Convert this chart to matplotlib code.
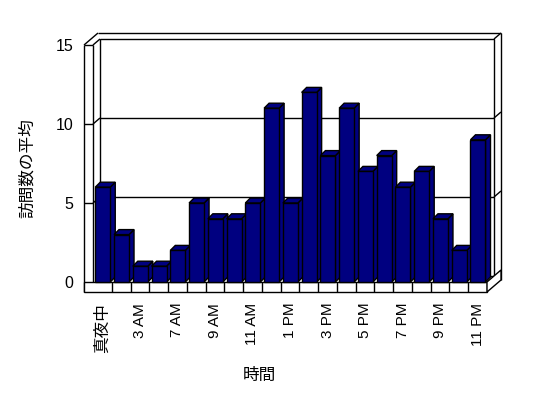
import numpy as np
import matplotlib
matplotlib.use("Agg")
import matplotlib.pyplot as plt
from matplotlib.patches import Polygon, Rectangle

plt.rcParams['font.family'] = ['Liberation Sans', 'Noto Sans CJK JP']

# data
hours = ["真夜中", "1 AM", "3 AM", "5 AM", "7 AM", "8 AM", "9 AM", "10 AM", "11 AM", "12 PM",
         "1 PM", "2 PM", "3 PM", "4 PM", "5 PM", "6 PM", "7 PM", "8 PM", "9 PM", "10 PM", "11 PM"]
visits = [6, 3, 1, 1, 2, 5, 4, 4, 5, 11, 5, 12, 8, 11, 7, 8, 6, 7, 4, 2, 9]
y_ticks = [0, 5, 10, 15]
y_title = "訪問数の平均"
x_title = "時間"

navy = "#000080"
W, H = 548, 398
n = len(visits)
ymax = 15

fig = plt.figure(figsize=(W / 100, H / 100), dpi=100)
ax = fig.add_axes([93 / W, (H - 282) / H, 394 / W, 237 / H])
ax.set_xlim(0, n)
ax.set_ylim(0, ymax)
for s in ax.spines.values():
    s.set_visible(False)

# pixel -> data units
px = n / 394
py = ymax / 237
dx1, dy1 = 7 * px, 6 * py     # front plane -> back wall
dx2, dy2 = 14 * px, 12 * py   # outer edge of back wall
tw = 9 * px                   # left wall thickness
tf = 10 * py                  # floor thickness
lw = 1.0
kw = dict(color='black', lw=lw, clip_on=False, solid_capstyle='butt')

# back wall
ax.add_patch(Polygon([(dx1, dy1), (n + dx1, dy1), (n + dx1, ymax + dy1), (dx1, ymax + dy1)],
                     closed=True, fc='white', ec='black', lw=lw, clip_on=False, zorder=1))
ax.plot([5 * px, n + dx2], [ymax + dy2, ymax + dy2], **kw)
ax.plot([-tw, 5 * px], [ymax, ymax + dy2], **kw)
ax.plot([0, dx1], [ymax, ymax + dy1], **kw)
ax.plot([n + dx1, n + dx2], [ymax + dy1, ymax + dy2], **kw)
ax.plot([n + dx2, n + dx2], [ymax + dy2, dy2 - tf], **kw)

# gridlines
for y in y_ticks[1:-1]:
    ax.plot([dx1, n + dx1], [y + dy1, y + dy1], **kw)
    ax.plot([0, dx1], [y, y + dy1], **kw)
    ax.plot([n + dx1, n + dx2], [y + dy1, y + dy2], **kw)
    ax.plot([-tw, 0], [y, y], **kw)

# left wall front
ax.plot([-tw, -tw], [-tf, ymax], **kw)
ax.plot([-tw, 0], [ymax, ymax], **kw)
ax.plot([0, 0], [0, ymax], **kw)

# floor front and right faces
ax.add_patch(Rectangle((-tw, -tf), n + tw, tf, fc='white', ec='black', lw=lw,
                       clip_on=False, zorder=3))
for k in range(1, n):
    ax.plot([k, k], [-tf, 0], zorder=4, **kw)
ax.add_patch(Polygon([(n, 0), (n, -tf), (n + dx2, -tf + dy2), (n + dx2, dy2)],
                     closed=True, fc='white', ec='black', lw=lw, clip_on=False, zorder=3))

# bars
bx, by = 5 * px, 5 * py
for i, v in enumerate(visits):
    x0, x1 = i + 0.12, i + 0.92
    z = 5 + i
    ax.add_patch(Polygon([(x1, 0), (x1, v), (x1 + bx, v + by), (x1 + bx, by)], closed=True,
                         fc=navy, ec='black', lw=lw, clip_on=False, zorder=z))
    ax.add_patch(Polygon([(x0, v), (x1, v), (x1 + bx, v + by), (x0 + bx, v + by)], closed=True,
                         fc=navy, ec='black', lw=lw, clip_on=False, zorder=z))
    ax.add_patch(Rectangle((x0, 0), x1 - x0, v, fc=navy, ec='black', lw=lw,
                           clip_on=False, zorder=z))

# tick labels
ax.set_xticks(np.arange(n) + 0.5)
ax.set_xticklabels([h if i % 2 == 0 else '' for i, h in enumerate(hours)], rotation=90,
                   fontsize=11)
for t in ax.get_xticklabels():
    if t.get_text() == hours[0]:
        t.set_fontfamily('Noto Sans CJK JP')
        t.set_fontsize(12)
ax.set_yticks(y_ticks)
ax.set_yticklabels([str(v) for v in y_ticks], fontsize=11.5)
ax.tick_params(axis='x', length=0, pad=15)
ax.tick_params(axis='y', length=0, pad=14)

fig.text(27 / W, 1 - 168 / H, y_title, rotation=90, ha='center', va='center',
         fontsize=12, family='Noto Sans CJK JP')
fig.text(259 / W, 1 - 375 / H, x_title, ha='center', va='center',
         fontsize=12, family='Noto Sans CJK JP')

fig.savefig('out.png', dpi=100, facecolor='white')
